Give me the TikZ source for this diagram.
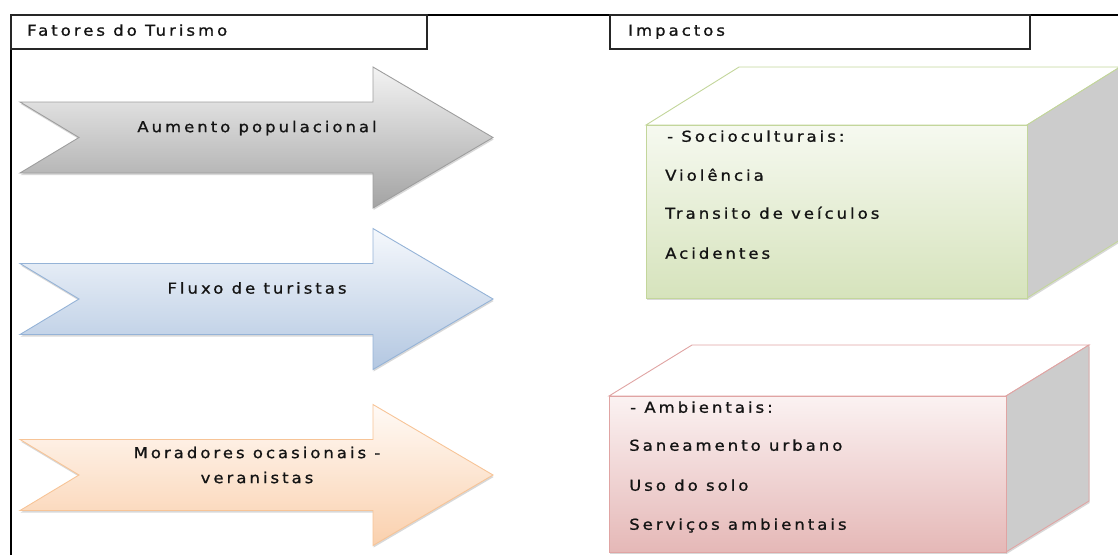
\documentclass[tikz,border=0pt]{standalone}
\usepackage{fontspec}
\setmainfont{DejaVu Sans}[LetterSpace=20, FakeStretch=1.1, FakeBold=1.0]
\usetikzlibrary{shadows}

\definecolor{grayTop}{HTML}{F3F3F3}
\definecolor{grayBot}{HTML}{A3A3A3}
\definecolor{grayEdge}{HTML}{9E9E9E}
\definecolor{blueTop}{HTML}{F5F8FC}
\definecolor{blueBot}{HTML}{B3C7E1}
\definecolor{blueEdge}{HTML}{95B3D7}
\definecolor{orangeTop}{HTML}{FFFAF6}
\definecolor{orangeBot}{HTML}{FAD0AD}
\definecolor{orangeEdge}{HTML}{F7C497}
\definecolor{greenTop}{HTML}{F6F9F0}
\definecolor{greenBot}{HTML}{D6E3BC}
\definecolor{greenEdge}{HTML}{C3D69B}
\definecolor{redTop}{HTML}{FBF2F2}
\definecolor{redBot}{HTML}{E5B8B7}
\definecolor{redEdge}{HTML}{E0A4A3}
\definecolor{sideGray}{HTML}{CCCCCC}
\definecolor{inkText}{HTML}{141414}

\tikzset{
  txt/.style={font=\fontsize{15pt}{25pt}\selectfont, text=inkText, inner sep=0pt},
  frameline/.style={line width=2pt, draw=black},
  headbox/.style={line width=1.3pt, draw=black!85},
  softshadow/.style={drop shadow={shadow xshift=0.6pt, shadow yshift=-2pt, opacity=0.28, fill=black!55}},
  arrowbody/.style={line width=0.9pt, softshadow},
  pics/fatorseta/.style n args={3}{code={
    \path[arrowbody, draw=#3, top color=#1, bottom color=#2]
      (0,-35.5) -- (353,-35.5) -- (353,-70.5) -- (473,0) -- (353,70.5)
      -- (353,35.5) -- (0,35.5) -- (59,0) -- cycle;
  }},
}

\begin{document}
\begin{tikzpicture}[x=1pt, y=-1pt]
\useasboundingbox (0,0) rectangle (1118,555);
\clip (0,0) rectangle (1118,555);

% outer frame: top rule and left rule
\draw[frameline] (11,555) -- (11,15) -- (1118,15);

% column headers
\draw[headbox] (11,15) rectangle (427,49);
\draw[headbox] (610,15) rectangle (1030,49);
\node[txt, anchor=mid west] (hfatores) at (27,33) {Fatores do Turismo};
\node[txt, anchor=mid west] (himpactos) at (628,33) {Impactos};

% factor arrows
\pic at (20,137.5) {fatorseta={grayTop}{grayBot}{grayEdge}};
\pic at (20,299) {fatorseta={blueTop}{blueBot}{blueEdge}};
\pic at (20,475) {fatorseta={orangeTop}{orangeBot}{orangeEdge}};
\node[txt] (aumento) at (257,128) {Aumento populacional};
\node[txt] (fluxo) at (257,288) {Fluxo de turistas};
\node[txt, align=center] (moradores) at (257,465) {Moradores ocasionais -\\veranistas};

% sociocultural impacts block
\path[line width=0.9pt, draw=greenEdge, fill=white]
  (646,125) -- (739,67) -- (1120,67) -- (1027,125) -- cycle;
\path[line width=0.9pt, draw=greenEdge, fill=sideGray, softshadow]
  (1027,125) -- (1120,67) -- (1120,240) -- (1027,298) -- cycle;
\path[line width=0.9pt, draw=greenEdge, top color=greenTop, bottom color=greenBot, softshadow]
  (646,125) rectangle (1027,298);
\node[txt, anchor=mid west] (socio) at (667,139) {- Socioculturais:};
\node[txt, anchor=mid west] (violencia) at (665,178) {Violência};
\node[txt, anchor=mid west] (transito) at (665,216) {Transito de veículos};
\node[txt, anchor=mid west] (acidentes) at (665,256) {Acidentes};

% environmental impacts block
\path[line width=0.9pt, draw=redEdge, fill=white]
  (609,396) -- (692,345) -- (1089,345) -- (1006,396) -- cycle;
\path[line width=0.9pt, draw=redEdge, fill=sideGray, softshadow]
  (1006,396) -- (1089,345) -- (1089,501) -- (1006,552) -- cycle;
\path[line width=0.9pt, draw=redEdge, top color=redTop, bottom color=redBot, softshadow]
  (609,396) rectangle (1006,552);
\node[txt, anchor=mid west] (ambient) at (630,410) {- Ambientais:};
\node[txt, anchor=mid west] (saneamento) at (629,448) {Saneamento urbano};
\node[txt, anchor=mid west] (solo) at (629,488) {Uso do solo};
\node[txt, anchor=mid west] (servicos) at (629,527) {Serviços ambientais};
\end{tikzpicture}
\end{document}
